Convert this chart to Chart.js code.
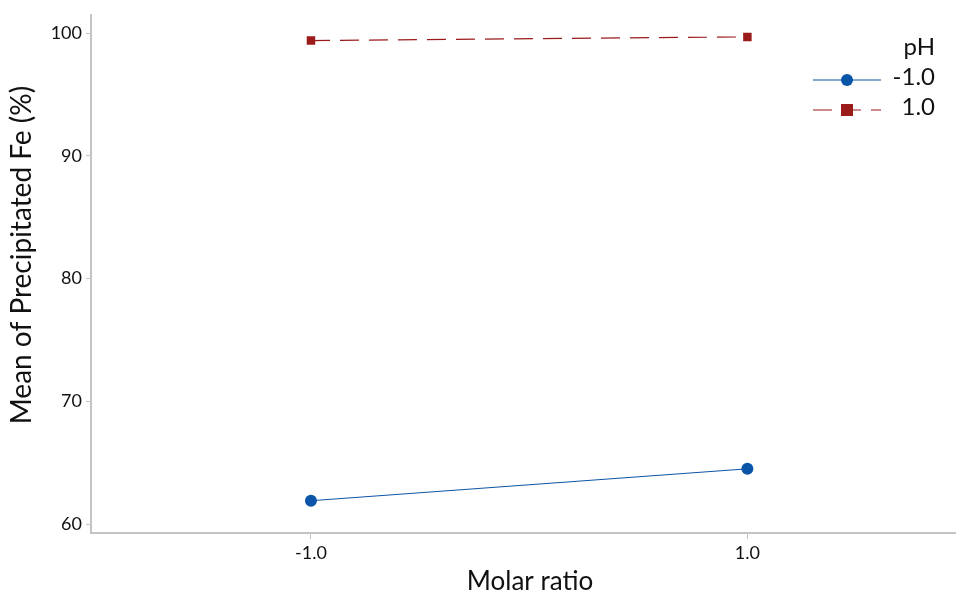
<!DOCTYPE html>
<html>
<head>
<meta charset="utf-8">
<script src="https://cdn.jsdelivr.net/npm/chart.js@4.4.0/dist/chart.umd.min.js"></script>
<style>
html,body{margin:0;padding:0;background:#fff;}
#wrap{width:956px;height:597px;position:relative;}
</style>
</head>
<body>
<div id="wrap"><canvas id="c" width="956" height="597"></canvas></div>
<script>
const molarRatio = [-1.0, 1.0];
const xTickLabels = ["-1.0", "1.0"];
const yTicks = [60, 70, 80, 90, 100];
const seriesNames = ["-1.0", "1.0"];
const phLow = [61.9, 64.5];
const phHigh = [99.4, 99.7];
const xTitle = "Molar ratio";
const yTitle = "Mean of Precipitated Fe (%)";
const legendTitle = "pH";

const FONT = "Lato, 'Open Sans', sans-serif";
const blue = "#0a55a8";
const red = "#9b1a1a";

const titlesPlugin = {
  id: 'axisTitles',
  afterDraw(chart) {
    const ctx = chart.ctx;
    ctx.save();
    ctx.fillStyle = "#111";
    ctx.textAlign = "center";
    ctx.textBaseline = "middle";
    ctx.font = "26px " + FONT;
    ctx.fillText(xTitle, 530, 582);
    ctx.translate(22, 255);
    ctx.rotate(-Math.PI / 2);
    ctx.font = "28px " + FONT;
    ctx.fillText(yTitle, 0, 0);
    ctx.restore();
  }
};

const legendPlugin = {
  id: 'customLegend',
  afterDraw(chart) {
    const ctx = chart.ctx;
    ctx.save();
    ctx.fillStyle = "#111";
    ctx.font = "24px " + FONT;
    ctx.textAlign = "right";
    ctx.textBaseline = "middle";
    ctx.fillText(legendTitle, 935, 47);
    const rows = [80, 110];
    chart.data.datasets.forEach((ds, i) => {
      const y = rows[i];
      ctx.strokeStyle = ds.borderColor;
      ctx.lineWidth = 1.2;
      ctx.setLineDash(i === 0 ? [] : [19, 10]);
      ctx.beginPath();
      ctx.moveTo(813, y); ctx.lineTo(881, y);
      ctx.stroke();
      ctx.setLineDash([]);
      ctx.fillStyle = ds.pointBackgroundColor;
      if (ds.pointStyle === 'rect') {
        ctx.fillRect(847 - 6, y - 6, 12, 12);
      } else {
        ctx.beginPath(); ctx.arc(847, y, 6, 0, Math.PI * 2); ctx.fill();
      }
      ctx.fillStyle = "#111";
      ctx.fillText(ds.label, 935, y - 3);
    });
    ctx.restore();
  }
};

new Chart(document.getElementById('c'), {
  type: 'scatter',
  data: {
    datasets: [
      {
        label: seriesNames[0],
        data: molarRatio.map((x, i) => ({x, y: phLow[i]})),
        showLine: true,
        borderColor: blue,
        borderWidth: 1,
        pointStyle: 'circle',
        pointRadius: 6,
        pointBackgroundColor: blue,
        pointBorderColor: blue,
        pointBorderWidth: 0
      },
      {
        label: seriesNames[1],
        data: molarRatio.map((x, i) => ({x, y: phHigh[i]})),
        showLine: true,
        borderColor: red,
        borderWidth: 1.2,
        borderDash: [19, 10],
        pointStyle: 'rect',
        pointRadius: 6,
        pointBackgroundColor: red,
        pointBorderColor: red,
        pointBorderWidth: 0
      }
    ]
  },
  options: {
    responsive: false,
    animation: false,
    devicePixelRatio: 1,
    layout: { autoPadding: false, padding: { top: 8, right: 0, left: 0, bottom: 0 } },
    plugins: { legend: { display: false }, tooltip: { enabled: false } },
    scales: {
      x: {
        type: 'linear',
        min: -2.008,
        max: 1.956,
        afterBuildTicks: s => { s.ticks = molarRatio.map(v => ({value: v})); },
        afterFit: s => { s.height = 64; },
        border: { color: '#c4c4c4', width: 2 },
        grid: { drawOnChartArea: false, drawTicks: true, tickLength: 6, color: '#c4c4c4', tickWidth: 1 },
        ticks: {
          color: '#111',
          font: { family: FONT, size: 18 },
          padding: 3,
          callback: (v) => { const i = molarRatio.indexOf(v); return i >= 0 ? xTickLabels[i] : ''; }
        },
        title: { display: false }
      },
      y: {
        type: 'linear',
        min: 59.27,
        max: 101.5,
        afterBuildTicks: s => { s.ticks = yTicks.map(v => ({value: v})); },
        afterFit: s => { s.width = 91; },
        border: { color: '#c4c4c4', width: 2 },
        grid: { drawOnChartArea: false, drawTicks: true, tickLength: 5, color: '#c4c4c4', tickWidth: 1 },
        ticks: {
          color: '#111',
          font: { family: FONT, size: 18 },
          padding: 4,
          callback: v => String(v)
        },
        title: { display: false }
      }
    }
  },
  plugins: [legendPlugin, titlesPlugin]
});
</script>
</body>
</html>
